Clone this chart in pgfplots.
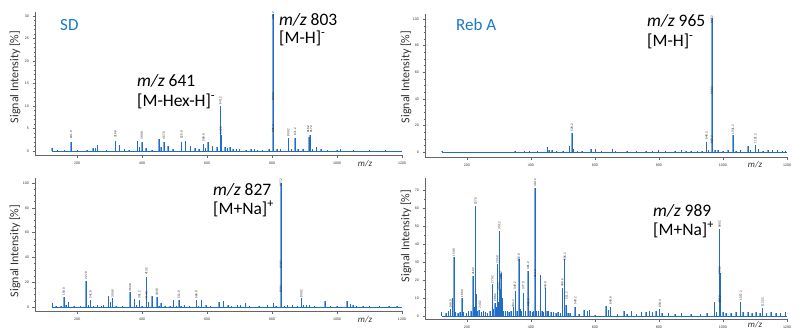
\documentclass[border=0pt]{standalone}
\usepackage{fontspec}
\setmainfont{Carlito}
\newfontfamily\arial{Liberation Sans}
\usepackage{pgfplots}
\usepackage{pgfplotstable}
\pgfplotsset{compat=1.18}
\definecolor{specblue}{RGB}{35,108,198}
\definecolor{speclight}{RGB}{122,170,226}
\definecolor{titleblue}{RGB}{25,120,200}

\pgfplotstableread{
x y
122 0.6
140 0.3
160 0.2
181 2.1
200 0.3
230 0.3
249 0.6
256 0.7
263 1.3
290 0.3
317 2.3
331 1.3
345 0.4
360 0.3
385 2.2
391 0.8
399 2.0
412 0.6
430 0.3
452 2.7
458 0.8
467 2.0
480 1.0
495 0.4
521 2.1
534 2.2
549 1.0
562 0.6
575 0.4
589 1.5
595 0.6
602 2.1
616 1.2
630 0.8
641 10.0
642.5 3.5
655 0.9
662 0.6
670 0.8
680 0.5
690 0.4
700 0.4
720 0.3
735 0.5
745 0.4
755 0.3
770 0.3
790 0.5
803 30.5
804 12.5
805 4.5
815 0.5
825 0.4
850 2.8
860 0.5
871 2.8
880 0.4
895 0.4
913 3.0
917 3.5
925 0.5
936 0.8
950 0.4
970 0.3
1000 0.3
1010 0.4
1050 0.2
1100 0.3
1150 0.2
}\sdneg

\pgfplotstableread{
x y
122 0.5
150 0.3
200 0.3
250 0.3
300 0.3
350 0.4
380 0.5
395 0.6
420 0.5
451 3.8
457 1.2
466 1.5
480 0.5
500 0.6
520 4.3
528 14.4
533 2.0
545 0.6
560 0.5
587 2.0
601 2.5
620 0.6
655 2.0
665 0.8
700 0.6
730 0.5
760 0.6
780 0.5
799 1.5
820 0.6
850 0.8
870 1.2
885 0.9
900 1.0
920 0.8
935 0.9
949 7.5
955 1.5
965 100.5
966 48
967 13
975 1.5
985 1.2
1000 1.0
1015 1.2
1031 12.6
1040 1.0
1055 1.2
1078 4.3
1085 1.2
1101 5.5
1110 2.0
1125 1.0
1140 1.5
1155 1.2
1170 1.8
1185 1.0
1195 0.8
}\rebneg

\pgfplotstableread{
x y
124 3
135 0.8
150 1
159 8.4
166 1.5
173 4
190 0.8
210 1
227 21
234 1.5
241 5.7
250 1.0
262 1.5
275 1.0
280 2.0
296 8.9
302 4
309 7
320 1.2
340 1.0
363 11.9
376 6.8
382 1.5
391 5.7
400 1.2
413 24.5
414 8
420 4
430 9
445 7.8
452 1.0
458 3
470 1.0
485 1.0
497 5.5
505 1.0
513 5.7
520 1.0
530 1.5
545 1.0
567 5.7
574 1.0
583 5.5
597 2
610 0.8
637 4
650 5
664 2
675 1.0
694 1.5
702 2
718 3
730 1.0
760 1.0
785 2
805 3
812 1.0
827 100
828 43
829 17
838 1.0
848 1.5
862 1.5
878 1.0
890 7
897 2
906 2
915 2
930 1.0
963 4.5
980 1.0
1000 1.0
1030 4.5
1042 2.5
1049 2
1060 1.0
1080 1.0
1100 1.2
1130 1.0
1160 0.8
1185 1.0
}\sdpos

\pgfplotstableread{
x y
121 2
135 1.5
142 2.5
149 3.9
155 10
159 32.6
160 20
165 2
172 1.5
178 2
185 9.8
190 2
198 1.5
205 2.5
212 3
219 22
222 5
227 61
228 12
233 3
238 3.3
245 2
252 2.5
258 2
265 1.5
272 3
279 17.6
283 4
288 7
291 5
295 28.9
297 8
301 47.4
303 15
307 23.7
310 10
315 3
320 2.5
326 3
332 2
338 2.5
345 5.2
352 13.9
356 3
362 31.7
367 4
371 3
376 13
383 3
391 25.2
392 6
397 3
404 2
408 2.5
413 71
414 28
418 3
423 3
429 22.8
435 3
440 2
445 15.4
450 2.5
455 3
462 2
470 2
478 1.5
485 2
492 1.5
499 15.4
505 31.7
510 6
516 1.5
522 1.5
537 5.2
550 1
566 3.3
577 3
582 3.5
600 0.8
634 5.5
642 3.5
648 5.2
670 1
691 3
700 1
715 3
730 1
745 2
760 2
771 3
780 2
790 3
802 3.7
810 1.5
830 1.5
850 1
870 1.5
900 1
930 1
950 1.5
973 8
980 2
989 48.3
990 24
991 10
1000 2
1010 1.5
1025 1.5
1040 2
1055 7.6
1062 2
1078 2
1090 1.5
1103 2
1115 1.5
1123 4.3
1135 1.5
1150 2
1165 1.5
1180 1.5
1195 2
}\rebpos

\pgfplotsset{
  spec/.style={
    scale only axis, anchor=south west,
    axis x line*=bottom, axis y line*=left,
    axis line style={black!60, line width=0.4pt},
    every tick/.style={black!60, line width=0.3pt},
    tick align=outside,
    major tick length=2.5pt, minor tick length=1.3pt,
    xmax=1200, xtick={200,400,...,1200}, minor x tick num=3,
    ticklabel style={font=\arial\fontsize{3.6}{4}\selectfont, text=black!80},
    xticklabel style={yshift=-0.5pt},
    /pgf/number format/assume math mode=true,
    /pgf/number format/1000 sep={},
    clip=false,
  },
}
\tikzset{
  pk/.style={rotate=90, anchor=west, font=\arial\fontsize{3}{3}\selectfont, inner sep=0.3pt, text=black!85},
  pkh/.style={pk, anchor=east},
}
\newcommand{\spectrum}[1]{%
  \addplot[ycomb, speclight, line width=1.4pt] table {#1};
  \addplot[ycomb, specblue, line width=0.55pt] table {#1};
  \addplot[specblue, line width=0.6pt] coordinates {(122,0) (1200,0)};
}

\begin{document}
\begin{tikzpicture}
\useasboundingbox (0pt,0pt) rectangle (806pt,333pt);

% ---------- panel 1: SD negative ----------
\begin{axis}[spec, at={(35pt,178pt)}, width=367pt, height=143pt,
  xmin=70, ymin=-0.9, ymax=30.9, ytick={0,5,...,30}, minor y tick num=4]
\spectrum{\sdneg}
\node[pk] at (axis cs:181,2.6) {181.0};
\node[pk] at (axis cs:317,2.8) {316.8};
\node[pk] at (axis cs:399,2.5) {399.0};
\node[pk] at (axis cs:467,2.5) {467.0};
\node[pk] at (axis cs:521,2.6) {520.8};
\node[pk] at (axis cs:589,2.0) {588.8};
\node[pk] at (axis cs:641,10.3) {641.2};
\node[pk] at (axis cs:642,3.6) {642.2};
\node[pkh] at (axis cs:803,31.0) {803.2};
\node[pk] at (axis cs:803,11.2) {804.2};
\node[pk] at (axis cs:803,4.0) {805.2};
\node[pk] at (axis cs:850,3.2) {850.2};
\node[pk] at (axis cs:871,3.3) {871.2};
\node[pk] at (axis cs:911,3.9) {916.2};
\node[pk] at (axis cs:920,3.9) {917.2};
\end{axis}

% ---------- panel 2: Reb A negative ----------
\begin{axis}[spec, at={(425pt,176pt)}, width=362pt, height=143pt,
  xmin=69, ymin=-3.8, ymax=103.8, ytick={0,20,...,100}, minor y tick num=3]
\spectrum{\rebneg}
\node[pk] at (axis cs:528,15) {528.2};
\node[pk] at (axis cs:949,9) {949.2};
\node[pkh] at (axis cs:965,103) {965.2};
\node[pk] at (axis cs:965,43) {966.2};
\node[pk] at (axis cs:965,6) {967.2};
\node[pk] at (axis cs:1031,13) {1031.2};
\node[pk] at (axis cs:1101,6.3) {1101.2};
\end{axis}

% ---------- panel 3: SD positive ----------
\begin{axis}[spec, at={(35pt,22pt)}, width=367pt, height=133pt,
  xmin=70, ymin=-3.2, ymax=104, ytick={0,20,...,100}, minor y tick num=3]
\spectrum{\sdpos}
\node[pk] at (axis cs:159,9) {159.0};
\node[pk] at (axis cs:227,22) {227.0};
\node[pk] at (axis cs:241,6.5) {241.0};
\node[pk] at (axis cs:309,7.5) {309.0};
\node[pk] at (axis cs:363,12.5) {362.8};
\node[pk] at (axis cs:391,6.5) {391.2};
\node[pk] at (axis cs:413,25.5) {413.2};
\node[pk] at (axis cs:413,6) {414.2};
\node[pk] at (axis cs:445,8.5) {444.8};
\node[pk] at (axis cs:513,6.5) {512.8};
\node[pk] at (axis cs:567,6.5) {566.8};
\node[pkh] at (axis cs:827,104) {827.2};
\node[pk] at (axis cs:827,31) {828.2};
\node[pk] at (axis cs:827,11) {829.2};
\node[pk] at (axis cs:890,7.5) {890.2};
\end{axis}

% ---------- panel 4: Reb A positive ----------
\begin{axis}[spec, at={(425pt,14pt)}, width=362pt, height=141pt,
  xmin=69, ymin=-1.7, ymax=76.7, ytick={0,10,...,70}, minor y tick num=1]
\spectrum{\rebpos}
\node[pk] at (axis cs:149,4.3) {149.0};
\node[pk] at (axis cs:159,33) {159.0};
\node[pk] at (axis cs:185,10.2) {185.0};
\node[pk] at (axis cs:219,22.5) {219.2};
\node[pk] at (axis cs:227,61.5) {227.0};
\node[pk] at (axis cs:240,4) {240.2};
\node[pk] at (axis cs:279,18) {279.2};
\node[pk] at (axis cs:288,8) {288.2};
\node[pk] at (axis cs:295,29) {295.0};
\node[pk] at (axis cs:301,48) {301.2};
\node[pk] at (axis cs:300,14) {303.2};
\node[pk] at (axis cs:307,20) {305.2};
\node[pk] at (axis cs:344,4.3) {344.2};
\node[pk] at (axis cs:350,14.4) {349.2};
\node[pk] at (axis cs:362,30) {362.8};
\node[pk] at (axis cs:376,14.4) {377.0};
\node[pk] at (axis cs:391,25.5) {391.2};
\node[pk] at (axis cs:392,5) {392.2};
\node[pkh] at (axis cs:413,76.5) {413.2};
\node[pk] at (axis cs:413,21) {414.2};
\node[pk] at (axis cs:445,14.4) {444.8};
\node[pk] at (axis cs:498,16) {498.8};
\node[pk] at (axis cs:506,30.5) {506.2};
\node[pk] at (axis cs:511,9) {511.2};
\node[pk] at (axis cs:539,6) {540.2};
\node[pk] at (axis cs:649,6) {649.8};
\node[pk] at (axis cs:803,4.5) {804.4};
\node[pk] at (axis cs:989,48.7) {989.2};
\node[pk] at (axis cs:989,23) {990.2};
\node[pk] at (axis cs:989,7) {991.2};
\node[pk] at (axis cs:1056,8.5) {1057.2};
\node[pk] at (axis cs:1124,5) {1125.2};
\end{axis}

% ---------- axis titles ----------
\begin{scope}[x=1pt, y=1pt, every node/.style={inner sep=0pt, text=black!80}]
\node[rotate=90, font=\fontsize{12}{14}\selectfont] at (15,256) {Signal Intensity [\%]};
\node[rotate=90, font=\fontsize{12}{14}\selectfont] at (406,256) {Signal Intensity [\%]};
\node[rotate=90, font=\fontsize{12}{14}\selectfont] at (15,82) {Signal Intensity [\%]};
\node[rotate=90, font=\fontsize{12}{14}\selectfont] at (406,97) {Signal Intensity [\%]};
\node[font=\fontsize{9}{10}\selectfont\itshape] at (365,169) {m/z};
\node[font=\fontsize{9}{10}\selectfont\itshape] at (755,168) {m/z};
\node[font=\fontsize{9}{10}\selectfont\itshape] at (365,13) {m/z};
\node[font=\fontsize{9}{10}\selectfont\itshape] at (755,8) {m/z};
\end{scope}

% ---------- annotations ----------
\begin{scope}[x=1pt, y=1pt, every node/.style={inner sep=0pt, anchor=base west}]
\node[text=titleblue, font=\fontsize{17}{19}\selectfont] at (60,303) {SD};
\node[text=titleblue, font=\fontsize{17}{19}\selectfont] at (456,303) {Reb A};
\node[font=\fontsize{17.5}{20}\selectfont] at (279,308) {\textit{m/z} 803};
\node[font=\fontsize{17.5}{20}\selectfont] at (279,290) {[M-H]\textsuperscript{-}};
\node[font=\fontsize{17.5}{20}\selectfont] at (137,247) {\textit{m/z} 641};
\node[font=\fontsize{17.5}{20}\selectfont] at (137,227) {[M-Hex-H]\textsuperscript{-}};
\node[font=\fontsize{17.5}{20}\selectfont] at (647,306) {\textit{m/z} 965};
\node[font=\fontsize{17.5}{20}\selectfont] at (647,287) {[M-H]\textsuperscript{-}};
\node[font=\fontsize{17.5}{20}\selectfont] at (213,138) {\textit{m/z} 827};
\node[font=\fontsize{17.5}{20}\selectfont] at (213,119) {[M+Na]\textsuperscript{+}};
\node[font=\fontsize{17.5}{20}\selectfont] at (653,117) {\textit{m/z} 989};
\node[font=\fontsize{17.5}{20}\selectfont] at (653,98) {[M+Na]\textsuperscript{+}};
\end{scope}
\end{tikzpicture}
\end{document}
